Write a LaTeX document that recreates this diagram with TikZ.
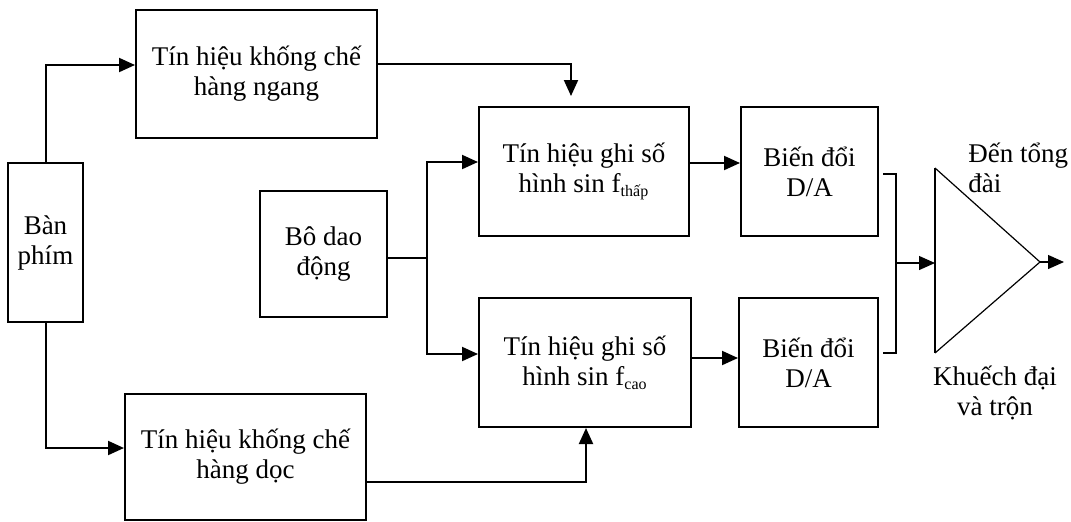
\documentclass[tikz,border=0pt]{standalone}
\usepackage{fontspec}
\setmainfont{Liberation Serif}
\usetikzlibrary{arrows.meta}
\newcommand{\lowsub}[1]{\textsubscript{\fontsize{8pt}{9pt}\selectfont #1}}
\begin{document}
\begin{tikzpicture}[x=0.5pt,y=-0.5pt,
  font=\fontsize{13.5pt}{15pt}\selectfont,
  box/.style={draw, line width=1pt, rectangle, align=center, inner sep=0pt},
  wire/.style={line width=1pt},
  thinwire/.style={line width=0.6pt},
  arr/.style={wire, -{Triangle[length=8pt,width=7pt]}},
  thinarr/.style={thinwire, -{Triangle[length=8pt,width=7pt]}},
  lbl/.style={inner sep=0pt, align=left}]
\useasboundingbox (0,0) rectangle (1071,521);

% blocks
\node[box, minimum width=37.5pt, minimum height=79.5pt] (kb) at (45.5,242.5) {Bàn\\phím};
\node[box, minimum width=120.5pt, minimum height=64pt] (top) at (256.5,74) {Tín hiệu khống chế\\hàng ngang};
\node[box, minimum width=120.5pt, minimum height=63pt] (bot) at (245.5,457) {Tín hiệu khống chế\\hàng dọc};
\node[box, minimum width=63.5pt, minimum height=63pt] (osc) at (323.5,254) {Bô dao\\động};
\node[box, minimum width=105pt, minimum height=64.5pt] (fl) at (584,171.5)
  {Tín hiệu ghi số\\hình sin f\lowsub{thấp}};
\node[box, minimum width=106pt, minimum height=64.5pt] (fh) at (585,362.5)
  {Tín hiệu ghi số\\hình sin f\lowsub{cao}};
\node[box, minimum width=68.5pt, minimum height=64.5pt] (da1) at (809.5,171.5) {Biến đổi\\D/A};
\node[box, minimum width=69.5pt, minimum height=64.5pt] (da2) at (808.5,362.5) {Biến đổi\\D/A};

% amplifier / mixer triangle
\coordinate (ampT) at (935,168);
\coordinate (ampB) at (935,353);
\coordinate (ampin) at (935,263);
\coordinate (ampout) at (1040,262);
\coordinate (outend) at (1064,262);
\draw[thinwire] (ampT) -- (ampout) -- (ampB);
\draw[wire] (ampT) -- (ampB);
\draw[thinarr] (ampout) -- (outend);

\node[lbl, anchor=west] (dest) at (968,168) {Đến tổng\\đài};
\node[lbl, align=center] (mix) at (995,393) {Khuếch đại\\và trộn};

% keyboard to row/column control
\draw[arr] (kb.north) |- ([yshift=4.5pt]top.west);
\draw[arr] (kb.south) |- ([yshift=4.5pt]bot.west);

% control signals into the generators
\draw[arr] ([yshift=5pt]top.east) -| ([xshift=-6.5pt,yshift=5pt]fl.north);
\draw[arr] ([yshift=-12.5pt]bot.east) -| ([xshift=0.5pt]fh.south);

% oscillator feeds both generators
\coordinate (j) at (427,258);
\draw[wire] ([yshift=-2pt]osc.east) -- (j);
\draw[arr] (j) |- ([yshift=4.75pt]fl.west);
\draw[arr] (j) |- ([yshift=4.25pt]fh.west);

% generators to D/A converters
\draw[arr] ([yshift=4.25pt]fl.east) -- ([yshift=4.25pt]da1.west);
\draw[arr] ([yshift=2.25pt]fh.east) -- ([yshift=2.25pt]da2.west);

% D/A outputs merged into the amplifier
\coordinate (m) at (896,263);
\coordinate (d1o) at ([xshift=2pt,yshift=-1.25pt]da1.east);
\coordinate (d2o) at ([xshift=2pt,yshift=4.75pt]da2.east);
\draw[thinwire] (d1o) -| (m) |- (d2o);
\draw[thinarr] (m) -- (ampin);
\end{tikzpicture}
\end{document}
